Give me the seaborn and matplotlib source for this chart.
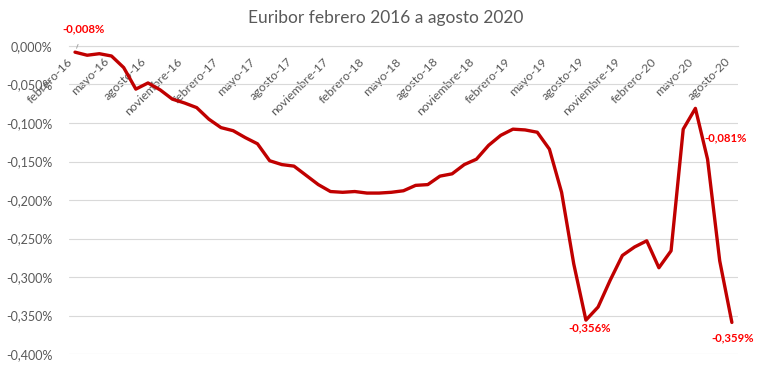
import matplotlib
matplotlib.use("Agg")
import matplotlib.pyplot as plt
import matplotlib.ticker as mticker
import seaborn as sns
import pandas as pd
import numpy as np

# categories Feb-2016 .. Aug-2020
month_names = ["enero", "febrero", "marzo", "abril", "mayo", "junio", "julio",
               "agosto", "septiembre", "octubre", "noviembre", "diciembre"]
categories = []
for yr in range(2016, 2021):
    for mi, mn in enumerate(month_names):
        if yr == 2016 and mi < 1:
            continue
        if yr == 2020 and mi > 7:
            continue
        categories.append(f"{mn}-{str(yr)[2:]}")

values = [
    -0.008, -0.012, -0.010, -0.013, -0.028, -0.056, -0.048, -0.057, -0.069, -0.074, -0.080,
    -0.095, -0.106, -0.110, -0.119, -0.127, -0.149, -0.154, -0.156, -0.168, -0.180, -0.189, -0.190,
    -0.189, -0.191, -0.191, -0.190, -0.188, -0.181, -0.180, -0.169, -0.166, -0.154, -0.147, -0.129,
    -0.116, -0.108, -0.109, -0.112, -0.134, -0.190, -0.283, -0.356, -0.339, -0.304, -0.272, -0.261,
    -0.253, -0.288, -0.266, -0.108, -0.081, -0.147, -0.279, -0.359,
]

labelled = {0: "-0,008%", 51: "-0,081%", 42: "-0,356%", 54: "-0,359%"}
yticks = [0.0, -0.05, -0.10, -0.15, -0.20, -0.25, -0.30, -0.35, -0.40]

df = pd.DataFrame({"idx": np.arange(len(values)), "cat": categories, "val": values})

sns.set_theme(style="white")
plt.rcParams["font.family"] = ["Lato", "DejaVu Sans"]

fig = plt.figure(figsize=(7.66, 3.83), dpi=100)
ax = fig.add_axes([0.090, 0.0757, 0.8734, 0.8042])

sns.lineplot(data=df, x="idx", y="val", ax=ax, color="#C00000", linewidth=2.4)

ax.set_xlim(-0.5, len(values) - 0.5)
ax.set_ylim(-0.40, 0.0)
ax.set_yticks(yticks)
ax.yaxis.set_major_formatter(mticker.FuncFormatter(
    lambda v, p: (f"{v:.3f}%").replace(".", ",").replace("-0,000", "0,000")))
ax.grid(axis="y", color="#D9D9D9", linewidth=0.8)
ax.set_axisbelow(True)

ax.set_xlabel("")
ax.set_ylabel("")
for s in ["left", "right", "top"]:
    ax.spines[s].set_visible(False)
ax.spines["bottom"].set_position(("data", 0))
ax.spines["bottom"].set_color("#D9D9D9")
ax.spines["bottom"].set_linewidth(0.8)

major = list(range(0, len(values), 3))
ax.set_xticks(major)
ax.set_xticklabels([categories[i] for i in major], rotation=45, ha="right",
                   va="top", color="#595959", fontsize=8.8)
ax.tick_params(axis="x", which="major", length=0, pad=7)
ax.set_xticks([i - 0.5 for i in major] + [len(values) - 0.5], minor=True)
ax.tick_params(axis="x", which="minor", length=4, color="#D9D9D9", width=0.8,
               direction="out")
ax.tick_params(axis="y", length=0, pad=12, labelcolor="#595959", labelsize=9)

red = "#FF0000"
fs = 8.2
ax.annotate(labelled[0], xy=(0, values[0]), xytext=(9, 23), textcoords="offset pixels",
            ha="center", va="center", color=red, fontsize=fs, fontweight="bold",
            arrowprops=dict(arrowstyle="-", color="#A6A6A6", lw=0.7,
                            shrinkA=5, shrinkB=3))
ax.annotate(labelled[51], xy=(51, values[51]), xytext=(30, -29), textcoords="offset pixels",
            ha="center", va="center", color=red, fontsize=fs, fontweight="bold")
ax.annotate(labelled[42], xy=(42, values[42]), xytext=(4, -8), textcoords="offset pixels",
            ha="center", va="center", color=red, fontsize=fs, fontweight="bold")
ax.annotate(labelled[54], xy=(54, values[54]), xytext=(1, -15), textcoords="offset pixels",
            ha="center", va="center", color=red, fontsize=fs, fontweight="bold")

fig.text(0.503, 0.953, "Euribor febrero 2016 a agosto 2020", ha="center", va="center",
         color="#595959", fontsize=12.5)

fig.savefig("out.png", dpi=100, facecolor="white")
